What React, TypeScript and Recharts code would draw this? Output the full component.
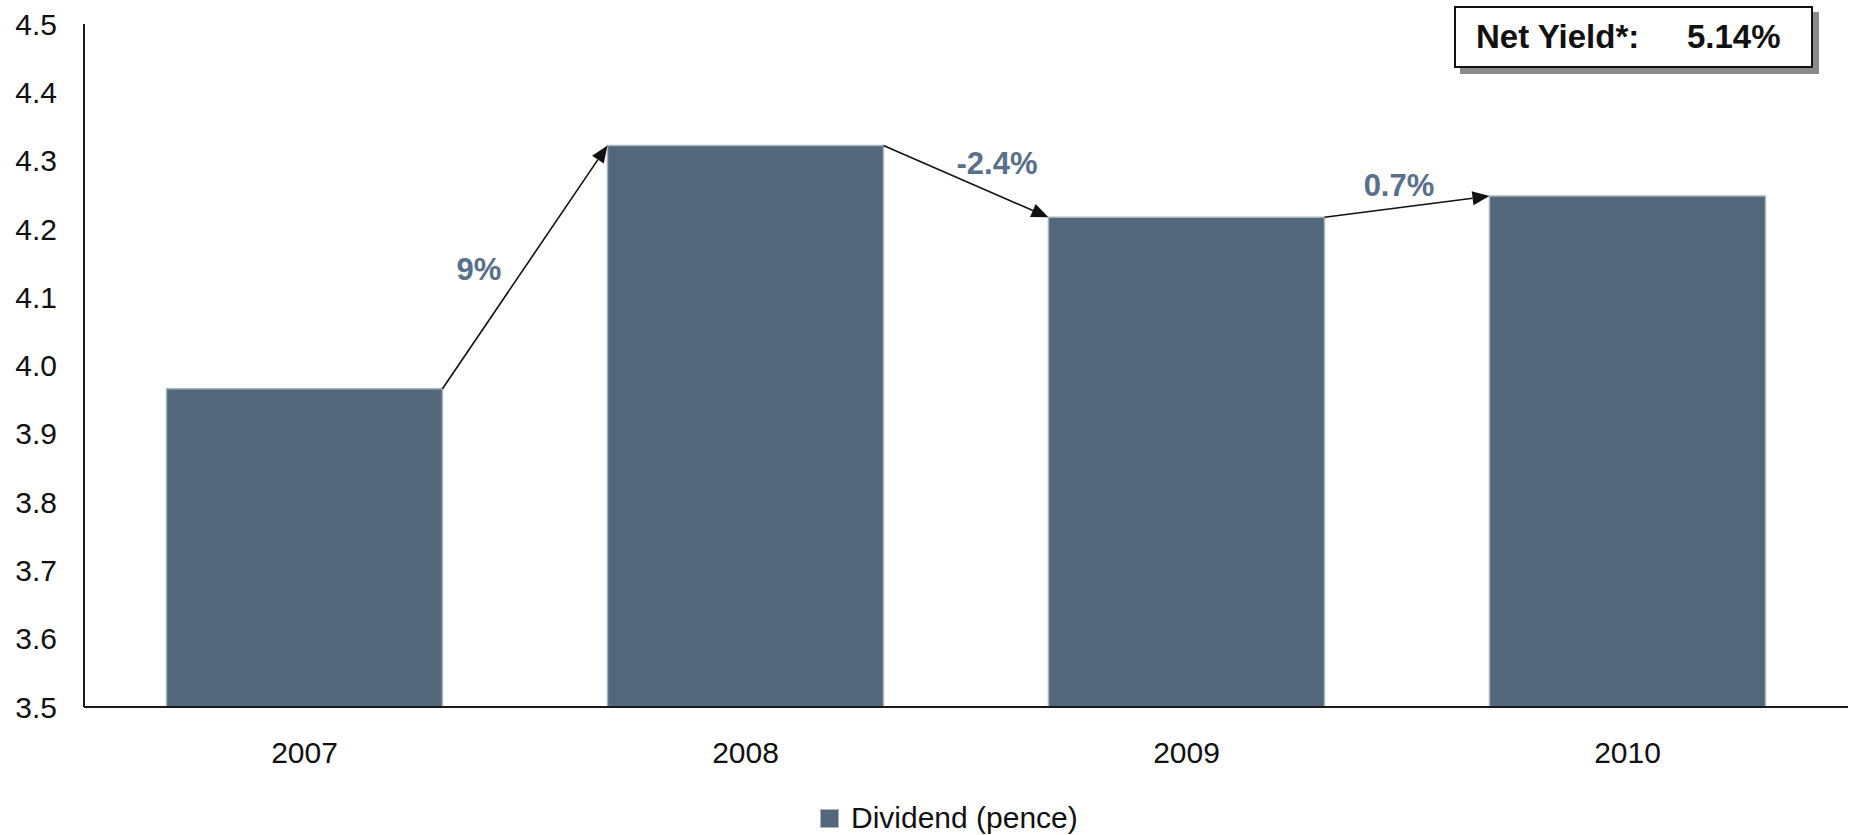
import React from "react";
import { BarChart, Bar, XAxis, YAxis, Legend, LabelList } from "recharts";

const YEARS = ["2007", "2008", "2009", "2010"];
const DIVIDEND = [3.966, 4.322, 4.217, 4.248];
const CHANGE_LABELS = ["9%", "-2.4%", "0.7%"];
const Y_TICKS = [3.5, 3.6, 3.7, 3.8, 3.9, 4.0, 4.1, 4.2, 4.3, 4.4, 4.5];
const SERIES_NAME = "Dividend (pence)";
const YIELD_LABEL = "Net Yield*:";
const YIELD_VALUE = "5.14%";

const data = YEARS.map((year, i) => ({ year, dividend: DIVIDEND[i] }));

const FONT = "'Liberation Sans', Arial, Helvetica, sans-serif";
const BAR_FILL = "#52677a";
const BAR_STROKE = "#aab4be";
const ANNOT_COLOR = "#587089";
// label offset from arrow midpoint (layout only)
const ANNOT_OFFSETS = [
  { dx: -46, dy: 2 },
  { dx: 31, dy: -18 },
  { dx: -8, dy: -21 },
];

const geom: { x: number; y: number; w: number }[] = [];

function ArrowLabel(props: any) {
  const { x, y, width, index } = props;
  geom[index] = { x: Number(x), y: Number(y), w: Number(width) };
  if (!index) return null;
  const prev = geom[index - 1];
  if (!prev) return null;
  const x0 = prev.x + prev.w;
  const y0 = prev.y;
  const x1 = Number(x);
  const y1 = Number(y);
  const dx = x1 - x0;
  const dy = y1 - y0;
  const len = Math.sqrt(dx * dx + dy * dy);
  const ux = dx / len;
  const uy = dy / len;
  const L = 17;
  const W = 14;
  const bx = x1 - ux * L;
  const by = y1 - uy * L;
  const nx = -uy;
  const ny = ux;
  const pts = `${x1},${y1} ${bx + (nx * W) / 2},${by + (ny * W) / 2} ${bx - (nx * W) / 2},${by - (ny * W) / 2}`;
  const mx = (x0 + x1) / 2;
  const my = (y0 + y1) / 2;
  const off = ANNOT_OFFSETS[index - 1];
  return (
    <g>
      <line x1={x0} y1={y0} x2={bx} y2={by} stroke="#111" strokeWidth={1.6} />
      <polygon points={pts} fill="#111" />
      <text
        x={mx + off.dx}
        y={my + off.dy}
        textAnchor="middle"
        dominantBaseline="central"
        fontFamily={FONT}
        fontWeight="bold"
        fontSize={31}
        fill={ANNOT_COLOR}
      >
        {CHANGE_LABELS[index - 1]}
      </text>
    </g>
  );
}

function LegendContent(props: any) {
  const { payload } = props;
  return (
    <div style={{ display: "flex", alignItems: "center", height: 36 }}>
      {(payload || []).map((p: any) => (
        <div key={p.value} style={{ display: "flex", alignItems: "center" }}>
          <div
            style={{
              width: 19,
              height: 19,
              background: BAR_FILL,
              border: `1px solid ${BAR_STROKE}`,
              boxSizing: "border-box",
              marginRight: 12,
            }}
          />
          <span style={{ fontFamily: FONT, fontSize: 30, color: "#111", lineHeight: "36px" }}>
            {p.value}
          </span>
        </div>
      ))}
    </div>
  );
}

export default function App() {
  return (
    <div style={{ position: "absolute", left: 0, top: 0, width: 1850, height: 835, background: "#fff" }}>
      <BarChart
        width={1850}
        height={835}
        data={data}
        margin={{ top: 24, right: 2, left: 0, bottom: 12 }}
        barCategoryGap="18.7%"
      >
        <XAxis
          dataKey="year"
          height={80}
          tickLine={false}
          tickSize={0}
          tickMargin={35}
          axisLine={{ stroke: "#1a1a1a", strokeWidth: 2 }}
          tick={{ fontFamily: FONT, fontSize: 30, fill: "#111" }}
        />
        <YAxis
          width={84}
          domain={[3.5, 4.5]}
          ticks={Y_TICKS}
          interval={0}
          tickFormatter={(v: number) => v.toFixed(1)}
          tickLine={false}
          tickSize={0}
          tickMargin={27}
          axisLine={{ stroke: "#1a1a1a", strokeWidth: 2 }}
          tick={{ fontFamily: FONT, fontSize: 30, fill: "#111" }}
        />
        <Legend
          verticalAlign="bottom"
          content={<LegendContent />}
          wrapperStyle={{ left: 820, top: 800, width: "auto" }}
        />
        <Bar
          dataKey="dividend"
          name={SERIES_NAME}
          fill={BAR_FILL}
          stroke={BAR_STROKE}
          strokeWidth={1.5}
          isAnimationActive={false}
        >
          <LabelList dataKey="dividend" content={<ArrowLabel />} />
        </Bar>
      </BarChart>
      <div
        style={{
          position: "absolute",
          left: 1454,
          top: 6,
          width: 359,
          height: 62,
          boxSizing: "border-box",
          border: "2px solid #111",
          background: "#fff",
          boxShadow: "6px 6px 0 #8a8a8a",
          fontFamily: FONT,
          fontWeight: "bold",
          fontSize: 33,
          color: "#111",
        }}
      >
        <span style={{ position: "absolute", left: 20, top: 0, lineHeight: "58px" }}>{YIELD_LABEL}</span>
        <span style={{ position: "absolute", left: 231, top: 0, lineHeight: "58px" }}>{YIELD_VALUE}</span>
      </div>
    </div>
  );
}
